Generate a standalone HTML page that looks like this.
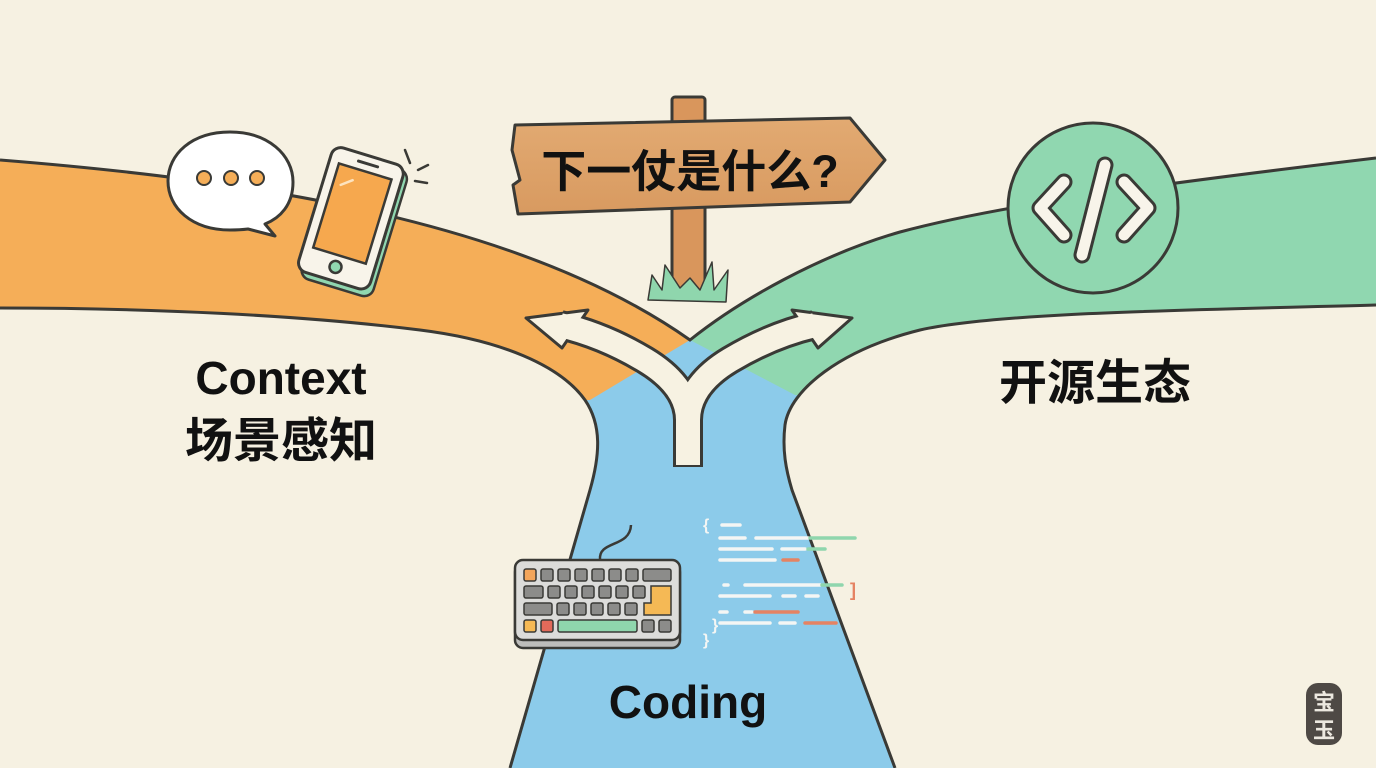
<!DOCTYPE html>
<html><head><meta charset="utf-8"><style>
html,body{margin:0;padding:0;background:#f6f1e2;}
svg{display:block}
text{font-family:"Liberation Sans","Noto Sans CJK SC",sans-serif;font-weight:bold;fill:#111}
</style></head><body>
<svg width="1376" height="768" viewBox="0 0 1376 768" xmlns="http://www.w3.org/2000/svg">
<defs>
<clipPath id="road"><path d="M0,160 C250,180 520,220 690,340 C740,300 820,255 900,232 C1000,205 1150,185 1376,158 L1376,305 C1200,310 1000,312 920,330 C840,350 790,390 785,425 C782,450 786,470 792,490 L895,768 L510,768 L590,490 C600,455 602,425 585,400 C560,365 500,340 420,330 C300,315 150,308 0,308 Z"/></clipPath>
<linearGradient id="bd" x1="0" y1="0" x2="0" y2="1"><stop offset="0" stop-color="#e2aa72"/><stop offset="1" stop-color="#d89a60"/></linearGradient>
</defs>
<rect width="1376" height="768" fill="#f6f1e2"/>
<g clip-path="url(#road)">
<rect width="1376" height="768" fill="#8ccbea"/>
<polygon points="0,0 690,0 690,340 590,400 0,420" fill="#f5ae58"/>
<polygon points="690,0 1376,0 1376,420 795,395 690,340" fill="#90d7b0"/>
</g>
<path d="M0,160 C250,180 520,220 690,340 C740,300 820,255 900,232 C1000,205 1150,185 1376,158 M1376,305 C1200,310 1000,312 920,330 C840,350 790,390 785,425 C782,450 786,470 792,490 L895,768 M510,768 L590,490 C600,455 602,425 585,400 C560,365 500,340 420,330 C300,315 150,308 0,308" fill="none" stroke="#3a3a36" stroke-width="3"/>

<!-- Y arrow -->
<g stroke-linejoin="round" stroke-linecap="butt">
<path d="M688,467 L688,420 C688,395 670,375 645,360 C620,345 590,332 560,325 M688,420 C688,395 705,375 730,360 C755,345 785,332 815,325" fill="none" stroke="#3a3a36" stroke-width="30"/>
<polygon points="526,318 588,310 562,348" fill="#f7f2e2" stroke="#3a3a36" stroke-width="3"/>
<polygon points="852,318 792,310 818,348" fill="#f7f2e2" stroke="#3a3a36" stroke-width="3"/>
<path d="M688,465 L688,420 C688,395 670,375 645,360 C620,345 590,332 560,325 M688,420 C688,395 705,375 730,360 C755,345 785,332 815,325" fill="none" stroke="#f7f2e2" stroke-width="24"/>
</g>

<!-- signpost -->
<rect x="672" y="97" width="33" height="195" rx="3" fill="#d9965c" stroke="#3a3a36" stroke-width="3"/>
<path d="M648,300 L652,275 L662,290 L665,265 L680,288 L690,278 L700,290 L712,262 L714,290 L728,270 L726,302 Z" fill="#8fd6ad" stroke="#3a3a36" stroke-width="1.5" stroke-linejoin="round"/>
<path d="M515,125 L850,118 L885,160 L850,202 L518,214 L513,185 L520,180 L512,150 Z" fill="url(#bd)" stroke="#3a3a36" stroke-width="3" stroke-linejoin="round"/>
<text x="690" y="187" font-size="45" text-anchor="middle">下一仗是什么?</text>

<!-- speech bubble -->
<path d="M230,132 C268,132 293,155 293,182 C293,205 280,218 265,224 L275,236 L248,229 C240,230 235,230 230,230 C192,230 168,208 168,181 C168,154 192,132 230,132 Z" fill="#fff" stroke="#3a3a36" stroke-width="3" stroke-linejoin="round"/>
<circle cx="204" cy="178" r="7" fill="#f5ae58" stroke="#3a3a36" stroke-width="2"/>
<circle cx="231" cy="178" r="7" fill="#f5ae58" stroke="#3a3a36" stroke-width="2"/>
<circle cx="257" cy="178" r="7" fill="#f5ae58" stroke="#3a3a36" stroke-width="2"/>

<!-- phone -->
<g transform="translate(353,220) rotate(17)">
<rect x="-35" y="-62" width="75" height="132" rx="10" fill="#90d7b0" stroke="#3a3a36" stroke-width="2.5"/>
<rect x="-40" y="-66" width="75" height="130" rx="10" fill="#f8f4ea" stroke="#3a3a36" stroke-width="3"/>
<rect x="-30" y="-50" width="55" height="88" fill="#f6a84e" stroke="#3a3a36" stroke-width="2.5"/>
<line x1="-12" y1="-58" x2="8" y2="-58" stroke="#3a3a36" stroke-width="3" stroke-linecap="round"/>
<circle cx="-3" cy="50" r="6" fill="#90d7b0" stroke="#3a3a36" stroke-width="2.5"/>
<line x1="-22" y1="-30" x2="-12" y2="-38" stroke="#fde3bf" stroke-width="2.5" stroke-linecap="round"/>
</g>
<path d="M405,150 L410,163 M418,170 L428,165 M415,181 L427,183" stroke="#3a3a36" stroke-width="2.5" stroke-linecap="round"/>

<!-- code circle -->
<circle cx="1093" cy="208" r="85" fill="#90d7b0" stroke="#3a3a36" stroke-width="3"/>
<g stroke-linecap="round" stroke-linejoin="round" fill="none">
<path d="M1064,182 L1040,208 L1064,235 M1124,182 L1148,208 L1124,235 M1105,165 L1082,255" stroke="#3a3a36" stroke-width="17"/>
<path d="M1064,182 L1040,208 L1064,235 M1124,182 L1148,208 L1124,235 M1105,165 L1082,255" stroke="#f8f4ea" stroke-width="11"/>
</g>

<!-- labels -->
<text x="281" y="394" font-size="46" text-anchor="middle">Context</text>
<text x="281" y="457" font-size="48" text-anchor="middle">场景感知</text>
<text x="1095" y="399" font-size="48" text-anchor="middle">开源生态</text>
<text x="688" y="718" font-size="46" text-anchor="middle">Coding</text>

<!-- keyboard -->
<path d="M600,560 C598,540 630,548 631,525" fill="none" stroke="#3a3a36" stroke-width="2.5"/>
<rect x="515" y="564" width="165" height="84" rx="8" fill="#bdbdbb" stroke="#3a3a36" stroke-width="2.5"/>
<rect x="515" y="560" width="165" height="80" rx="8" fill="#dcdcda" stroke="#3a3a36" stroke-width="2.5"/>
<g stroke="#3a3a36" stroke-width="1.5">
<rect x="524" y="569" width="12" height="12" rx="2" fill="#f3a55a"/>
<rect x="541" y="569" width="12" height="12" rx="2" fill="#8c8c8a"/>
<rect x="558" y="569" width="12" height="12" rx="2" fill="#8c8c8a"/>
<rect x="575" y="569" width="12" height="12" rx="2" fill="#8c8c8a"/>
<rect x="592" y="569" width="12" height="12" rx="2" fill="#8c8c8a"/>
<rect x="609" y="569" width="12" height="12" rx="2" fill="#8c8c8a"/>
<rect x="626" y="569" width="12" height="12" rx="2" fill="#8c8c8a"/>
<rect x="643" y="569" width="28" height="12" rx="2" fill="#8c8c8a"/>
<rect x="524" y="586" width="19" height="12" rx="2" fill="#8c8c8a"/>
<rect x="548" y="586" width="12" height="12" rx="2" fill="#8c8c8a"/>
<rect x="565" y="586" width="12" height="12" rx="2" fill="#8c8c8a"/>
<rect x="582" y="586" width="12" height="12" rx="2" fill="#8c8c8a"/>
<rect x="599" y="586" width="12" height="12" rx="2" fill="#8c8c8a"/>
<rect x="616" y="586" width="12" height="12" rx="2" fill="#8c8c8a"/>
<rect x="633" y="586" width="12" height="12" rx="2" fill="#8c8c8a"/>
<path d="M651,586 L671,586 L671,615 L644,615 L644,603 L651,603 Z" fill="#f5b955"/>
<rect x="524" y="603" width="28" height="12" rx="2" fill="#8c8c8a"/>
<rect x="557" y="603" width="12" height="12" rx="2" fill="#8c8c8a"/>
<rect x="574" y="603" width="12" height="12" rx="2" fill="#8c8c8a"/>
<rect x="591" y="603" width="12" height="12" rx="2" fill="#8c8c8a"/>
<rect x="608" y="603" width="12" height="12" rx="2" fill="#8c8c8a"/>
<rect x="625" y="603" width="12" height="12" rx="2" fill="#8c8c8a"/>
<rect x="524" y="620" width="12" height="12" rx="2" fill="#f5b955"/>
<rect x="541" y="620" width="12" height="12" rx="2" fill="#e26a5a"/>
<rect x="558" y="620" width="79" height="12" rx="2" fill="#8fd6ad"/>
<rect x="642" y="620" width="12" height="12" rx="2" fill="#8c8c8a"/>
<rect x="659" y="620" width="12" height="12" rx="2" fill="#8c8c8a"/>
</g>

<!-- code lines -->
<g stroke-linecap="round" stroke-width="3.5" fill="none">
<path d="M722,525 L740,525 M720,538 L745,538 M756,538 L808,538 M720,549 L772,549 M782,549 L805,549 M720,560 L775,560 M745,585 L820,585 M720,596 L770,596 M783,596 L795,596 M806,596 L818,596 M720,623 L770,623 M780,623 L795,623 M745,612 L752,612 M720,612 L727,612 M724,585 L728,585" stroke="#f4f6f4"/>
<path d="M810,538 L855,538 M808,549 L825,549 M822,585 L842,585" stroke="#8fd6ad"/>
<path d="M783,560 L798,560 M755,612 L798,612 M805,623 L836,623" stroke="#e58363"/>
</g>
<text x="703" y="530" font-size="16" style="fill:#f4f6f4">{</text>
<text x="712" y="630" font-size="16" style="fill:#f4f6f4">}</text>
<text x="703" y="645" font-size="16" style="fill:#f4f6f4">}</text>
<text x="850" y="596" font-size="18" style="fill:#e58363">]</text>

<!-- seal -->
<rect x="1306" y="683" width="36" height="62" rx="12" fill="#4e4945"/>
<text x="1324" y="710" font-size="22" text-anchor="middle" style="fill:#ece8e0">宝</text>
<text x="1324" y="738" font-size="22" text-anchor="middle" style="fill:#ece8e0">玉</text>
</svg>
</body></html>
